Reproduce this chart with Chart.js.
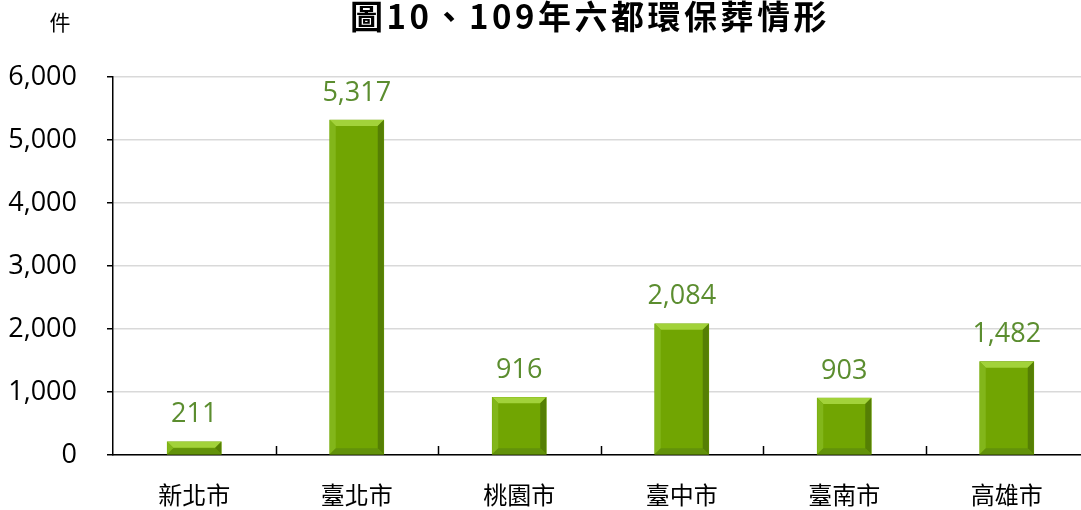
<!DOCTYPE html>
<html>
<head>
<meta charset="utf-8">
<script src="https://cdn.jsdelivr.net/npm/chart.js@4"></script>
<style>
  html, body { margin: 0; padding: 0; background: #fff; overflow: hidden; }
  #wrap { position: relative; width: 1090px; height: 510px; }
</style>
</head>
<body>
<div id="wrap"><canvas id="c"></canvas></div>
<script>
const cities = ["新北市", "臺北市", "桃園市", "臺中市", "臺南市", "高雄市"];
const counts = [211, 5317, 916, 2084, 903, 1482];
const yTicks = [0, 1000, 2000, 3000, 4000, 5000, 6000];
const chartTitle = "圖10、109年六都環保葬情形";
const unitLabel = "件";

const numFont = "'Open Sans', 'Noto Sans', sans-serif";
const cjkFont = "'Noto Sans CJK TC', 'Noto Sans', sans-serif";
const barGreen = "#71a502";

// 立體斜角效果 + 數值標籤 + 標題
const decoPlugin = {
  id: "deco",
  afterDatasetsDraw(chart) {
    const ctx = chart.ctx;
    const meta = chart.getDatasetMeta(0);
    const b = 6;
    ctx.save();
    meta.data.forEach((bar, i) => {
      const l = bar.x - bar.width / 2, r = bar.x + bar.width / 2;
      const t = bar.y, bot = bar.base;
      const bb = Math.min(b, (bot - t) / 2);
      const poly = (pts, color) => {
        ctx.beginPath();
        ctx.moveTo(pts[0][0], pts[0][1]);
        pts.slice(1).forEach((p) => ctx.lineTo(p[0], p[1]));
        ctx.closePath();
        ctx.fillStyle = color;
        ctx.fill();
      };
      poly([[l, t], [r, t], [r - bb, t + bb], [l + bb, t + bb]], "#a2d23a");
      poly([[l, t], [l + bb, t + bb], [l + bb, bot - bb], [l, bot]], "#82b61a");
      poly([[r, t], [r, bot], [r - bb, bot - bb], [r - bb, t + bb]], "#557f04");
      poly([[l, bot], [l + bb, bot - bb], [r - bb, bot - bb], [r, bot]], "#62920a");

      ctx.fillStyle = "#5b8d2f";
      ctx.font = "27px " + numFont;
      ctx.textAlign = "center";
      ctx.textBaseline = "middle";
      ctx.fillText(counts[i].toLocaleString("en-US"), bar.x, t - 27);
    });

    // x 軸分隔刻度（朝上）
    const xs = chart.scales.x;
    const half = (xs.getPixelForValue(1) - xs.getPixelForValue(0)) / 2;
    ctx.strokeStyle = "#000";
    ctx.lineWidth = 1.5;
    for (let i = 0; i < cities.length; i++) {
      const px = Math.round(xs.getPixelForValue(i) + half) + 0.5;
      ctx.beginPath();
      ctx.moveTo(px, chart.chartArea.bottom);
      ctx.lineTo(px, chart.chartArea.bottom - 9);
      ctx.stroke();
    }

    ctx.fillStyle = "#000";
    ctx.textBaseline = "middle";
    ctx.font = "bold 33px " + cjkFont;
    ctx.letterSpacing = "3.5px";
    ctx.fillText(chartTitle, 590, 16);
    ctx.letterSpacing = "0px";
    ctx.font = "21px " + cjkFont;
    ctx.fillText(unitLabel, 60, 22);
    ctx.restore();
  },
};

new Chart(document.getElementById("c"), {
  type: "bar",
  data: {
    labels: cities,
    datasets: [{
      data: counts,
      backgroundColor: barGreen,
      barThickness: 54,
      borderWidth: 0,
    }],
  },
  options: {
    responsive: true,
    maintainAspectRatio: false,
    animation: false,
    layout: { padding: { top: 77, right: 2, left: 0, bottom: 0 } },
    plugins: { legend: { display: false }, tooltip: { enabled: false } },
    scales: {
      x: {
        grid: { display: false },
        border: { color: "#000", width: 1.5 },
        ticks: { color: "#000", font: { size: 24, family: cjkFont }, padding: 17 },
        afterFit: (s) => { s.height = 55; },
      },
      y: {
        min: 0,
        max: 6000,
        afterBuildTicks: (s) => { s.ticks = yTicks.map((v) => ({ value: v })); },
        grid: { color: "#d9d9d9", lineWidth: 1.5, tickColor: "#000", tickLength: 6 },
        border: { color: "#000", width: 1.5 },
        ticks: {
          color: "#000",
          font: { size: 27, family: numFont },
          padding: 30,
          callback: (v) => v.toLocaleString("en-US"),
        },
        afterFit: (s) => { s.width = 113; },
      },
    },
  },
  plugins: [decoPlugin],
});
</script>
</body>
</html>
